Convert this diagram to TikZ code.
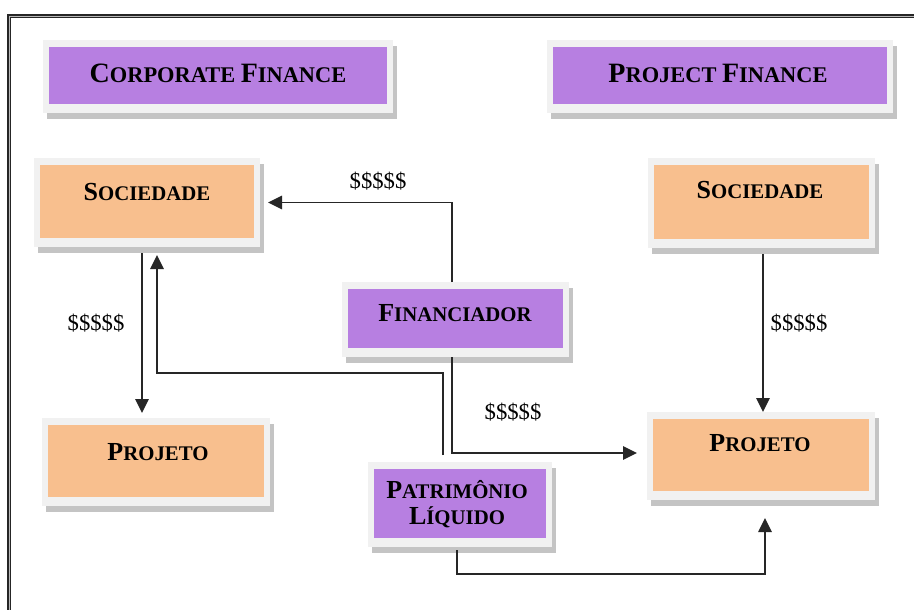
\documentclass[tikz,border=0pt]{standalone}
\usepackage{fontspec}
\setmainfont{Liberation Serif}
\usetikzlibrary{shadows,arrows.meta}
\definecolor{purp}{HTML}{B77FE1}
\definecolor{orng}{HTML}{F8BF8E}
\definecolor{frm}{HTML}{F1F1F1}
\definecolor{shd}{HTML}{C4C4C4}
\newcommand{\tsc}[2]{{\fontsize{21}{25}\selectfont #1}{\fontsize{16.8}{20}\selectfont #2}}
\newcommand{\bsc}[2]{{\fontsize{19.5}{23}\selectfont #1}{\fontsize{15.6}{19}\selectfont #2}}
\tikzset{
  boxbase/.style={draw=none, fill=frm, inner sep=0pt, outer sep=0pt,
    drop shadow={shadow xshift=3pt, shadow yshift=-4.5pt, fill=shd, opacity=1}},
  purpbox/.style={boxbase, path picture={\fill[purp]
    ([shift={(4.5pt,-4.9pt)}]path picture bounding box.north west) rectangle
    ([shift={(-4.5pt,6.4pt)}]path picture bounding box.south east);}},
  orngbox/.style={boxbase, path picture={\fill[orng]
    ([shift={(4.5pt,-4.9pt)}]path picture bounding box.north west) rectangle
    ([shift={(-4.5pt,6.4pt)}]path picture bounding box.south east);}},
  lbl/.style={inner sep=0pt, font=\bfseries, text=black, align=center},
  dol/.style={inner sep=0pt, font=\fontsize{17}{20}\selectfont, text=black},
  arr/.style={draw=black!85, line width=1.2pt, -{Triangle[length=10.5pt,width=10pt]}},
  ln/.style={draw=black!85, line width=1.2pt}
}
\begin{document}
\begin{tikzpicture}[x=0.75pt,y=-0.75pt]
\useasboundingbox (0,0) rectangle (914,610);
\clip (0,0) rectangle (914,610);
\fill[white] (0,0) rectangle (914,610);
\draw[line width=0.8pt, draw=black!85, double=gray!55, double distance=0.7pt] (9,16) rectangle (1000,700);

% boxes
\node[purpbox, minimum width=262.5pt, minimum height=54.75pt] (cf) at (218,76.5) {};
\node[purpbox, minimum width=259.5pt, minimum height=54.75pt] (pf) at (720,76.5) {};
\node[orngbox, minimum width=169.5pt, minimum height=66.75pt] (socL) at (147,202.5) {};
\node[orngbox, minimum width=170.25pt, minimum height=67.5pt] (socR) at (761.5,203) {};
\node[orngbox, minimum width=171pt, minimum height=66pt] (projL) at (156,462) {};
\node[orngbox, minimum width=171pt, minimum height=66pt] (projR) at (761,456) {};
\node[purpbox, minimum width=170.25pt, minimum height=56.25pt] (fin) at (455.5,319.5) {};
\node[purpbox, minimum width=138pt, minimum height=63.75pt] (pat) at (460,504.5) {};

% texts
\node[lbl] (tcf) at (218,73) {\tsc{C}{ORPORATE }\tsc{F}{INANCE}};
\node[lbl] (tpf) at (718,73) {\tsc{P}{ROJECT }\tsc{F}{INANCE}};
\node[lbl] (tsocL) at (147,192) {\bsc{S}{OCIEDADE}};
\node[lbl] (tsocR) at (760,190) {\bsc{S}{OCIEDADE}};
\node[lbl] (tprojL) at (158,452) {\bsc{P}{ROJETO}};
\node[lbl] (tprojR) at (760,443) {\bsc{P}{ROJETO}};
\node[lbl] (tfin) at (455,313) {\bsc{F}{INANCIADOR}};
\node[lbl] (tpat1) at (457,490) {\bsc{P}{ATRIMÔNIO}};
\node[lbl] (tpat2) at (457,517) {\bsc{L}{ÍQUIDO}};

% dollar labels
\node[dol] (d1) at (378,181) {\$\$\$\$\$};
\node[dol] (d2) at (513,412) {\$\$\$\$\$};
\node[dol] (d3) at (96,323) {\$\$\$\$\$};
\node[dol] (d4) at (799,323) {\$\$\$\$\$};

% connectors
\coordinate (a1) at ([shift={(-3.5,0)}]fin.north);
\draw[arr] (a1) |- ([shift={(8,0)}]socL.east);
\coordinate (a2) at ([shift={(-3.5,0)}]fin.south);
\draw[arr] (a2) |- ([shift={(-10,-3)}]projR.west);
\coordinate (p1) at ([shift={(-17,-7)}]pat.north);
\draw[arr] (p1) -- ++(0,-82) -| ([shift={(10,8)}]socL.south);
\coordinate (b1) at ([shift={(-5,6)}]socL.south);
\draw[arr, shorten >=3.75pt] (b1) -- (b1 |- projL.north);
\coordinate (c1) at ([shift={(1.5,6)}]socR.south);
\draw[arr] (c1) -- (c1 |- projR.north);
\coordinate (e1) at ([shift={(-3,3)}]pat.south);
\draw[arr] (e1) -- ++(0,24) -| ([shift={(4,18)}]projR.south);
\end{tikzpicture}
\end{document}
